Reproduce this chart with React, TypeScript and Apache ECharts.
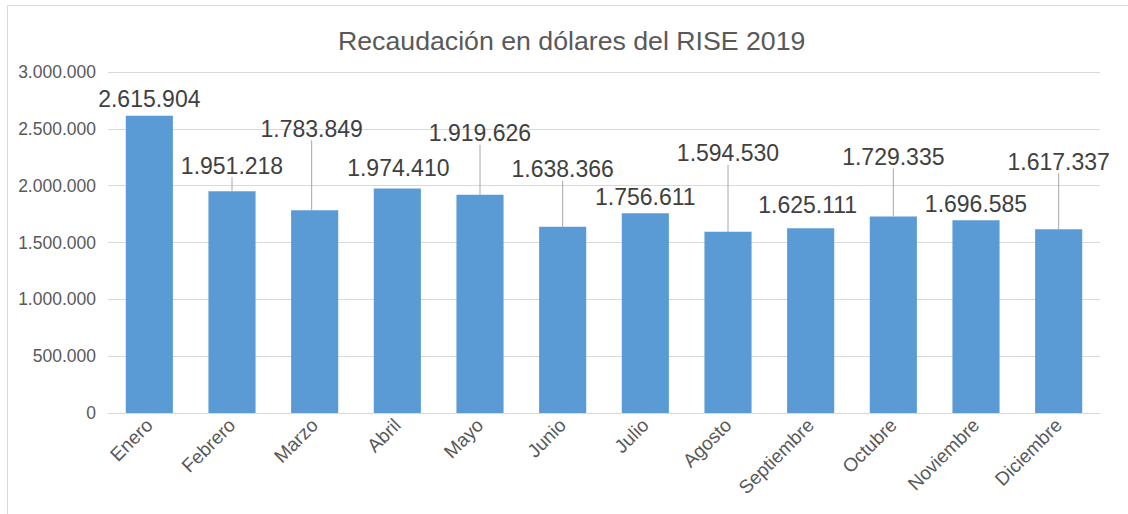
import React, { useEffect, useRef } from "react";
import * as echarts from "echarts";

const titleText = "Recaudación en dólares del RISE 2019";
const months = ["Enero", "Febrero", "Marzo", "Abril", "Mayo", "Junio", "Julio", "Agosto", "Septiembre", "Octubre", "Noviembre", "Diciembre"];
const revenue = [2615904, 1951218, 1783849, 1974410, 1919626, 1638366, 1756611, 1594530, 1625111, 1729335, 1696585, 1617337];
// displacement of each data label (Excel-style manual placement)
const labelShiftY = [0, -9, -65, -4, -45, -41, 0, -62, -7, -43, 0, -51];
const labelShiftX = [0, 0, -3, 1, 0, 0, 0, 0, -3, 0, 0, 0];
const leaderLine = [false, true, true, false, true, true, false, true, false, true, false, true];

const fmt = (n: number) => String(Math.round(n)).replace(/\B(?=(\d{3})+(?!\d))/g, ".");

const FONT = "'Liberation Sans', Arial, sans-serif";

export default function App() {
  const ref = useRef<HTMLDivElement>(null);
  useEffect(() => {
    if (!ref.current) return;
    const chart = echarts.init(ref.current, undefined, { renderer: "svg" });
    chart.setOption({
      animation: false,
      backgroundColor: "#ffffff",
      textStyle: { fontFamily: FONT },
      title: {
        text: titleText,
        left: 333,
        top: 22,
        textStyle: { fontSize: 26.7, fontWeight: "normal", color: "#595959", fontFamily: FONT },
      },
      graphic: [
        {
          type: "rect",
          shape: { x: 7.5, y: 5.5, width: 1140, height: 530 },
          style: { fill: "none", stroke: "#d9d9d9", lineWidth: 1 },
          silent: true,
        },
      ],
      grid: { left: 108, right: 28, top: 72, bottom: 101, containLabel: false },
      xAxis: {
        type: "category",
        data: months,
        axisLine: { lineStyle: { color: "#d9d9d9", width: 1 } },
        axisTick: { show: false },
        axisLabel: { rotate: 45, interval: 0, fontSize: 19, color: "#595959", margin: 9, fontFamily: FONT },
      },
      yAxis: {
        type: "value",
        min: 0,
        max: 3000000,
        interval: 500000,
        axisLine: { show: false },
        axisTick: { show: false },
        splitLine: { lineStyle: { color: "#d9d9d9", width: 1 } },
        axisLabel: { fontSize: 17.5, color: "#595959", margin: 12, formatter: (v: number) => fmt(v), fontFamily: FONT },
      },
      series: [
        {
          type: "bar",
          barCategoryGap: "43%",
          itemStyle: { color: "#5B9BD5" },
          data: revenue.map((v, i) => ({
            value: v,
            labelLine: { show: leaderLine[i] },
          })),
          label: {
            show: true,
            position: "top",
            distance: 5,
            fontSize: 23,
            color: "#404040",
            fontFamily: FONT,
            formatter: (p: any) => fmt(p.value),
          },
          labelLine: {
            show: false,
            lineStyle: { color: "#a6a6a6", width: 1 },
          },
          labelLayout: (p: any) => ({ dx: labelShiftX[p.dataIndex], dy: labelShiftY[p.dataIndex] }),
        },
      ],
    });
    return () => chart.dispose();
  }, []);
  return (
    <div
      ref={ref}
      style={{ position: "absolute", left: 0, top: 0, width: 1128, height: 514 }}
    />
  );
}
